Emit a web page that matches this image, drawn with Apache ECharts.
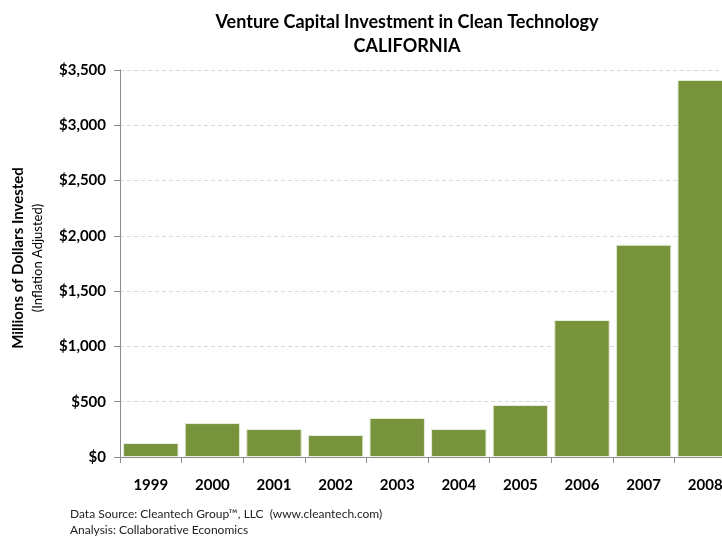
<!DOCTYPE html>
<html>
<head>
<meta charset="utf-8">
<script src="https://cdn.jsdelivr.net/npm/echarts@6/dist/echarts.min.js"></script>
<style>
  html, body { margin: 0; padding: 0; background: #fff; }
  #chart { width: 722px; height: 537px; }
</style>
</head>
<body>
<div id="chart"></div>
<script>
const years = ['1999', '2000', '2001', '2002', '2003', '2004', '2005', '2006', '2007', '2008'];
const invested = [127, 307, 253, 199, 353, 253, 470, 1239, 1920, 3410];
const yTicks = [0, 500, 1000, 1500, 2000, 2500, 3000, 3500];

const font = 'Lato, "Open Sans", sans-serif';
const chart = echarts.init(document.getElementById('chart'));

chart.setOption({
  animation: false,
  textStyle: { fontFamily: font },
  title: {
    text: 'Venture Capital Investment in Clean Technology\nCALIFORNIA',
    left: 402,
    top: 5,
    textAlign: 'center',
    textStyle: { fontSize: 18, fontWeight: 'bold', color: '#000', lineHeight: 24, fontFamily: font }
  },
  // plot runs past the right edge, so the last bar is cut off like in the original
  grid: { left: 120, width: 616, top: 70, bottom: 80, outerBoundsMode: 'none', containLabel: false },
  xAxis: {
    type: 'category',
    data: years,
    axisLine: { lineStyle: { color: '#8c8c8c' } },
    axisTick: { show: true, length: 6, lineStyle: { color: '#8c8c8c' } },
    axisLabel: { fontSize: 15, fontWeight: 'bold', color: '#000', margin: 21, fontFamily: font }
  },
  yAxis: {
    type: 'value',
    min: yTicks[0],
    max: yTicks[yTicks.length - 1],
    interval: 500,
    axisLine: { show: true, lineStyle: { color: '#8c8c8c' } },
    axisTick: { show: true, length: 6, inside: false, lineStyle: { color: '#8c8c8c' } },
    axisLabel: {
      fontSize: 15, fontWeight: 'bold', color: '#000', margin: 14, fontFamily: font,
      formatter: v => '$' + v.toLocaleString('en-US')
    },
    splitLine: { lineStyle: { color: '#d9d9d9', type: [4, 3] } }
  },
  series: [{
    type: 'bar',
    data: invested,
    barCategoryGap: '10%',
    itemStyle: { color: '#77933c', borderColor: '#e8eedc', borderWidth: 1 }
  }],
  graphic: [
    {
      type: 'text', x: 18, y: 258, rotation: Math.PI / 2,
      style: { text: 'Millions of Dollars Invested', fontSize: 15, fontWeight: 'bold', fill: '#000',
        align: 'center', verticalAlign: 'middle', fontFamily: font }
    },
    {
      type: 'text', x: 38, y: 258, rotation: Math.PI / 2,
      style: { text: '(Inflation Adjusted)', fontSize: 13, fill: '#000',
        align: 'center', verticalAlign: 'middle', fontFamily: font }
    },
    {
      type: 'text', x: 70, y: 508,
      style: { text: 'Data Source: Cleantech Group\u2122, LLC  (www.cleantech.com)', fontSize: 12, fill: '#222', fontFamily: font }
    },
    {
      type: 'text', x: 70, y: 524,
      style: { text: 'Analysis: Collaborative Economics', fontSize: 12, fill: '#222', fontFamily: font }
    }
  ]
});
</script>
</body>
</html>
